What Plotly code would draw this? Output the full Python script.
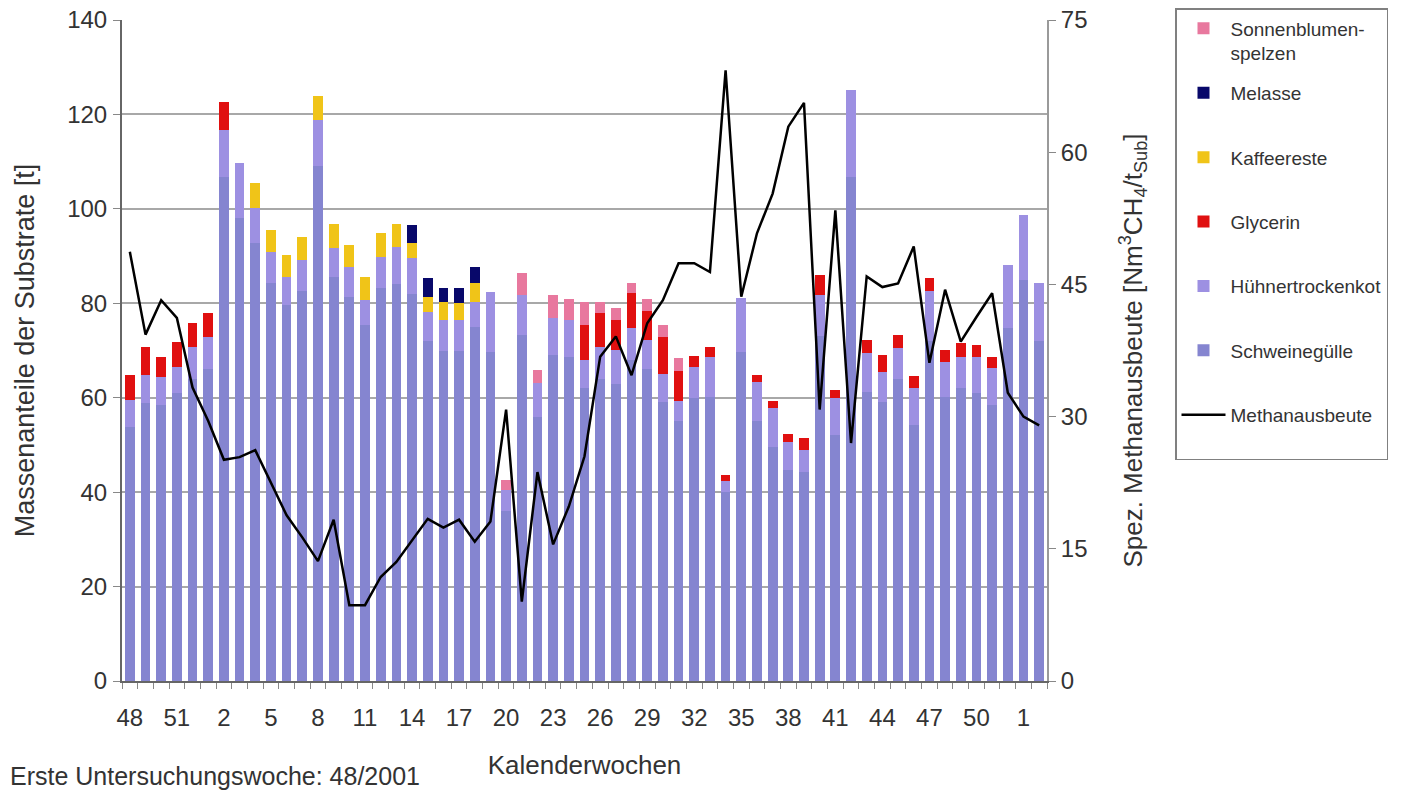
import plotly.graph_objects as go

# Kalenderwochen 48/2001 ... 2/2003
weeks = [48, 49, 50, 51, 52,
         1, 2, 3, 4, 5, 6, 7, 8, 9, 10, 11, 12, 13, 14, 15, 16, 17, 18, 19, 20,
         21, 22, 23, 24, 25, 26, 27, 28, 29, 30, 31, 32, 33, 34, 35, 36, 37, 38,
         39, 40, 41, 42, 43, 44, 45, 46, 47, 48, 49, 50, 51, 52,
         1, 2]

schweine = [53.9, 58.9, 58.5, 61.0, 64.0, 66.0, 106.8, 98.0, 92.8, 84.3,
            79.6, 82.5, 109.0, 85.6, 81.3, 75.4, 83.2, 84.0, 82.0, 72.0,
            70.0, 70.0, 75.0, 69.7, 36.0, 73.3, 56.0, 69.0, 68.6, 62.0,
            64.0, 63.0, 68.0, 66.0, 59.0, 55.0, 60.0, 60.2, 40.0, 69.7,
            55.0, 49.6, 44.7, 44.3, 73.0, 52.0, 106.8, 61.3, 59.0, 64.0,
            54.2, 72.0, 60.2, 62.0, 61.0, 58.5, 74.8, 85.0, 72.0]

huehner = [5.6, 5.9, 5.9, 5.5, 6.7, 6.9, 9.9, 11.7, 7.4, 6.6,
           6.0, 6.7, 9.8, 6.1, 6.4, 5.3, 6.6, 8.0, 7.6, 6.2,
           6.5, 6.5, 5.3, 12.7, 4.5, 8.5, 7.1, 7.9, 7.9, 6.0,
           6.7, 7.1, 6.8, 6.3, 6.1, 4.3, 6.5, 8.4, 2.4, 11.5,
           8.4, 8.2, 6.0, 4.6, 8.8, 7.9, 18.4, 8.2, 6.5, 6.5,
           7.8, 10.5, 7.4, 6.7, 7.7, 7.7, 13.3, 13.7, 12.3]

glycerin = [5.3, 6.0, 4.2, 5.3, 5.1, 5.0, 6.0, 0, 0, 0,
            0, 0, 0, 0, 0, 0, 0, 0, 0, 0,
            0, 0, 0, 0, 0, 0, 0, 0, 0, 7.4,
            7.3, 6.4, 7.4, 6.0, 7.8, 6.3, 2.3, 2.2, 1.2, 0,
            1.4, 1.4, 1.7, 2.5, 4.2, 1.7, 0, 2.7, 3.5, 2.8,
            2.5, 2.8, 2.5, 2.9, 2.5, 2.5, 0, 0, 0]

kaffee = [0, 0, 0, 0, 0, 0, 0, 0, 5.3, 4.6,
          4.6, 4.9, 5.2, 5.1, 4.6, 4.8, 5.1, 4.7, 3.2, 3.1,
          3.8, 3.6, 4.0, 0, 0, 0, 0, 0, 0, 0,
          0, 0, 0, 0, 0, 0, 0, 0, 0, 0,
          0, 0, 0, 0, 0, 0, 0, 0, 0, 0,
          0, 0, 0, 0, 0, 0, 0, 0, 0]

melasse = [0, 0, 0, 0, 0, 0, 0, 0, 0, 0,
           0, 0, 0, 0, 0, 0, 0, 0, 3.8, 4.1,
           2.9, 3.1, 3.4, 0, 0, 0, 0, 0, 0, 0,
           0, 0, 0, 0, 0, 0, 0, 0, 0, 0,
           0, 0, 0, 0, 0, 0, 0, 0, 0, 0,
           0, 0, 0, 0, 0, 0, 0, 0, 0]

sonnen = [0, 0, 0, 0, 0, 0, 0, 0, 0, 0,
          0, 0, 0, 0, 0, 0, 0, 0, 0, 0,
          0, 0, 0, 0, 2.1, 4.6, 2.8, 4.9, 4.4, 4.9,
          2.3, 2.5, 2.1, 2.6, 2.5, 2.8, 0, 0, 0, 0,
          0, 0, 0, 0, 0, 0, 0, 0, 0, 0,
          0, 0, 0, 0, 0, 0, 0, 0, 0]

methan = [48.7, 39.3, 43.2, 41.2, 33.3, 29.5, 25.1, 25.4, 26.2, 22.5,
          18.8, 16.3, 13.6, 18.3, 8.6, 8.6, 11.8, 13.5, 16.0, 18.4,
          17.4, 18.3, 15.8, 18.1, 30.8, 9.0, 23.7, 15.5, 19.8, 25.5,
          36.8, 39.1, 34.7, 40.6, 43.2, 47.4, 47.4, 46.4, 69.3, 43.6,
          50.8, 55.3, 62.9, 65.6, 30.8, 53.4, 27.0, 45.9, 44.7, 45.1,
          49.3, 36.1, 44.4, 38.5, 41.3, 44.0, 32.7, 30.0, 29.0]

x = list(range(len(weeks)))
FONT = "Liberation Sans, Arial, sans-serif"
BLANK = "<br>&nbsp;"   # keeps every legend entry two lines tall, as in the original

# plot area in figure pixels
L, T, R, B = 122, 20, 362, 109
PW, PH = 1409 - L - R, 790 - T - B

fig = go.Figure()
series = [
    ("Schweinegülle" + BLANK, schweine, "#8585d0", 6),
    ("Hühnertrockenkot" + BLANK, huehner, "#9d90e2", 5),
    ("Glycerin" + BLANK, glycerin, "#e01010", 4),
    ("Kaffeereste" + BLANK, kaffee, "#f0c418", 3),
    ("Melasse" + BLANK, melasse, "#08086a", 2),
    ("Sonnenblumen-<br>spelzen", sonnen, "#e8789e", 1),
]
for name, vals, color, rank in series:
    fig.add_trace(go.Bar(
        x=x, y=[v if v else None for v in vals], name=name,
        marker=dict(color=color, line=dict(width=0)),
        legendrank=rank, legendgroup=name,
    ))
fig.add_trace(go.Scatter(
    x=x, y=methan, yaxis="y2", mode="lines", name="Methanausbeute" + BLANK,
    line=dict(color="black", width=2.5), legendrank=7, legendgroup="methan",
))

fig.update_layout(
    width=1409, height=790,
    margin=dict(l=L, r=R, t=T, b=B, autoexpand=False),
    barmode="stack", bargap=0.38,
    plot_bgcolor="white", paper_bgcolor="white",
    font=dict(family=FONT, size=24, color="#333333"),
    xaxis=dict(
        range=[-0.5, len(weeks) - 0.5],
        tickmode="array", tickvals=x[::3], ticktext=[str(w) for w in weeks[::3]],
        ticks="", showline=True, linecolor="#666666", linewidth=2,
        showgrid=False, zeroline=False, tickfont=dict(size=24),
        ticklabelstandoff=14, ticklabeloverflow="allow",
        title=dict(text="Kalenderwochen", font=dict(size=26), standoff=26),
        minor=dict(ticks="outside", tickmode="linear", tick0=-0.5, dtick=1,
                   ticklen=6, tickcolor="#888888", showgrid=False),
    ),
    yaxis=dict(
        range=[0, 140], dtick=20, showgrid=True, gridcolor="#a8a8a8", gridwidth=1.5,
        showline=True, linecolor="#666666", linewidth=2,
        ticks="outside", ticklen=7, tickcolor="#888888", zeroline=False,
        tickfont=dict(size=24), ticklabelstandoff=1, ticklabeloverflow="allow",
        title=dict(text="Massenanteile der Substrate [t]", font=dict(size=27), standoff=25),
    ),
    yaxis2=dict(
        range=[0, 75], dtick=15, overlaying="y", side="right",
        showgrid=False, showline=True, linecolor="#9a9a9a", linewidth=2,
        ticks="outside", ticklen=7, tickcolor="#888888", zeroline=False,
        tickfont=dict(size=24), ticklabeloverflow="allow",
        title=dict(text="Spez. Methanausbeute [Nm<sup>3</sup>CH<sub>4</sub>/t<sub>Sub</sub>]",
                   font=dict(size=26), standoff=37),
    ),
    legend=dict(
        x=(1175 - L) / PW, xanchor="left", y=(PH + T - 8) / PH, yanchor="top",
        bordercolor="#808080", borderwidth=1.5, bgcolor="white",
        font=dict(size=19, color="#333333"), tracegroupgap=12, itemwidth=44,
        valign="top", maxheight=700,
    ),
    annotations=[dict(
        text="Erste Untersuchungswoche: 48/2001", showarrow=False,
        xref="paper", yref="paper", x=(8 - L) / PW, y=(PH + T - 776) / PH,
        xanchor="left", yanchor="middle", font=dict(size=25, color="#333333"),
    )],
)

# remove the browser's default 8px page margin so the figure sits at the window origin
fig.write_html("out.html", config={"displayModeBar": False},
               post_script="document.body.style.margin='0px';")
